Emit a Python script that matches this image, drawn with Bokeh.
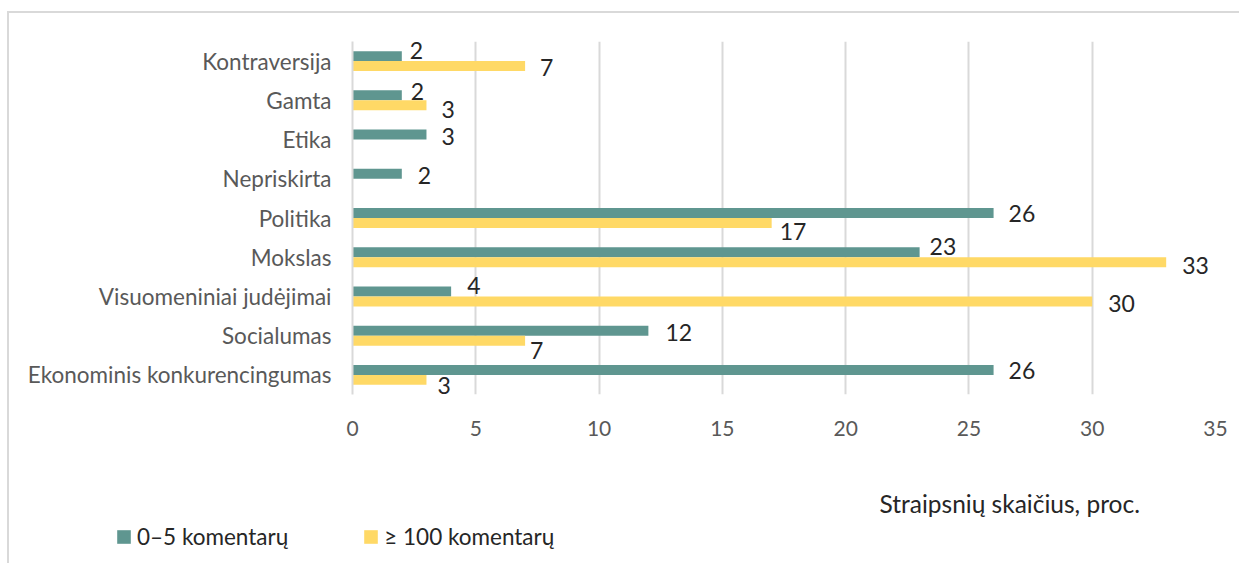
from bokeh.plotting import figure
from bokeh.layouts import column, row
from bokeh.models import (Range1d, FactorRange, ColumnDataSource, LabelSet, Label,
                          Legend, LegendItem, FixedTicker)
from bokeh.core.properties import value
from bokeh.transform import dodge
from bokeh.embed import file_html
from bokeh.resources import INLINE

# ---------------- data ----------------
categories = ["Kontraversija", "Gamta", "Etika", "Nepriskirta", "Politika", "Mokslas",
              "Visuomeniniai judėjimai", "Socialumas", "Ekonominis konkurencingumas"]
low_comments = [2, 2, 3, 2, 26, 23, 4, 12, 26]      # 0–5 komentarų
high_comments = [7, 3, 0, 0, 17, 33, 30, 7, 3]      # ≥ 100 komentarų
series_names = ["0–5 komentarų", "≥ 100 komentarų"]
x_ticks = [0, 5, 10, 15, 20, 25, 30, 35]
axis_title = "Straipsnių skaičius, proc."

# label nudges (screen px): right, down
low_dx = [8, 9, 15, 16, 15, 10, 16, 17, 15]
low_dy = [-6, -4, 2, 2, 0, -6, -6, 2, 1]
high_dx = [15, 15, 0, 0, 8, 16, 16, 5, 11]
high_dy = [1, 4, 0, 0, 9, 3, 2, 10, 6]

TEAL = "#5F9690"
GOLD = "#FFD966"
FONT = "Lato"
W = 1230

factors = list(reversed(categories))

p = figure(width=W, height=435, output_backend="svg", toolbar_location=None,
           y_range=FactorRange(*factors, range_padding=0),
           x_range=Range1d(0, 35),
           min_border_left=343, min_border_right=24, min_border_top=28, min_border_bottom=54)
p.outline_line_color = None
p.background_fill_color = "white"
p.border_fill_color = "white"

src = ColumnDataSource(dict(cat=categories, low=low_comments, high=high_comments))

off = 0.127
h = 0.254
r_low = p.hbar(y=dodge("cat", off, range=p.y_range), right="low", left=0, height=h,
               source=src, fill_color=TEAL, line_color=None)
r_high = p.hbar(y=dodge("cat", -off, range=p.y_range), right="high", left=0, height=h,
                source=src, fill_color=GOLD, line_color=None)

# data labels (y_offset of LabelSet points up, so negate the "down" nudges)
low_src = ColumnDataSource(dict(cat=categories, v=low_comments, t=[str(v) for v in low_comments],
                                dx=low_dx, dy=[-d for d in low_dy]))
hi_idx = [i for i, v in enumerate(high_comments) if v > 0]
hi_src = ColumnDataSource(dict(cat=[categories[i] for i in hi_idx],
                               v=[high_comments[i] for i in hi_idx],
                               t=[str(high_comments[i]) for i in hi_idx],
                               dx=[high_dx[i] for i in hi_idx],
                               dy=[-high_dy[i] for i in hi_idx]))
for s, o in ((low_src, off), (hi_src, -off)):
    ls = LabelSet(x="v", y=dodge("cat", o, range=p.y_range), text="t", source=s,
                  x_offset="dx", y_offset="dy", text_align="left", text_baseline="middle",
                  text_font=value(FONT), text_font_size=value("23px"), text_color="#262626")
    p.add_layout(ls)

# axes
p.xaxis.ticker = FixedTicker(ticks=x_ticks)
p.xaxis.axis_line_color = None
p.xaxis.major_tick_line_color = None
p.xaxis.minor_tick_line_color = None
p.xaxis.major_label_text_font = FONT
p.xaxis.major_label_text_font_size = "21px"
p.xaxis.major_label_text_color = "#595959"
p.xaxis.major_label_standoff = 20

p.yaxis.axis_line_color = "#d9d9d9"
p.yaxis.axis_line_width = 2
p.yaxis.major_tick_line_color = None
p.yaxis.minor_tick_line_color = None
p.yaxis.major_label_text_font = FONT
p.yaxis.major_label_text_font_size = "22.5px"
p.yaxis.major_label_text_color = "#595959"
p.yaxis.major_label_standoff = 15

p.xgrid.grid_line_color = "#d9d9d9"
p.xgrid.grid_line_width = 2
p.xgrid.ticker = FixedTicker(ticks=x_ticks)
p.ygrid.grid_line_color = None

# ---------------- footer: axis title + legend ----------------
FH = 115
f = figure(width=W, height=FH, output_backend="svg", toolbar_location=None,
           x_range=Range1d(0, W), y_range=Range1d(0, FH),
           x_axis_location=None, y_axis_location=None,
           min_border_left=0, min_border_right=0, min_border_top=0, min_border_bottom=0)
f.outline_line_color = None
f.xgrid.grid_line_color = None
f.ygrid.grid_line_color = None
f.background_fill_color = "white"
f.border_fill_color = "white"

f.add_layout(Label(x=870, y=60, text=axis_title,
                   text_font=FONT, text_font_size="24.5px", text_color="#262626",
                   text_baseline="middle", text_align="left"))

# legend swatches: renderers whose (series) data sit outside the footer's visible range
d_low = f.hbar(y=[-1000], right=[1], left=[0], height=1, fill_color=TEAL, line_color=None)
d_high = f.hbar(y=[-1000], right=[1], left=[0], height=1, fill_color=GOLD, line_color=None)
legend = Legend(items=[LegendItem(label=series_names[0], renderers=[d_low]),
                       LegendItem(label=series_names[1], renderers=[d_high])],
                location=(106, 13), orientation="horizontal",
                glyph_width=17, glyph_height=17, label_standoff=5, spacing=74,
                padding=0, margin=0, border_line_color=None, background_fill_alpha=0,
                label_text_font=FONT, label_text_font_size="22.5px", label_text_color="#262626")
f.add_layout(legend)

layout = column(p, row(f), spacing=0,
                styles={"border-top": "2px solid #d9d9d9", "border-left": "2px solid #d9d9d9",
                        "margin-left": "7px", "margin-top": "11px"})

open("out.html", "w").write(file_html(layout, INLINE))
